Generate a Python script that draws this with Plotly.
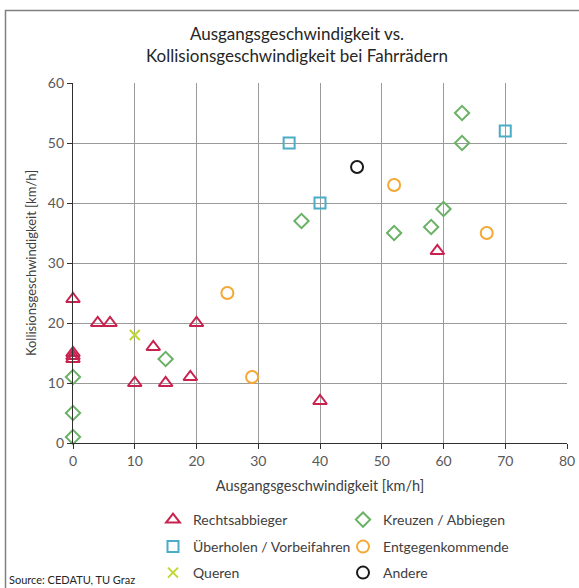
import plotly.graph_objects as go

# Ausgangsgeschwindigkeit (x) und Kollisionsgeschwindigkeit (y) je Unfalltyp, km/h
rechts_x = [0, 0, 0, 0, 4, 6, 10, 13, 15, 19, 20, 40, 59]
rechts_y = [24, 15, 14.5, 14, 20, 20, 10, 16, 10, 11, 20, 7, 32]

kreuzen_x = [0, 0, 0, 15, 37, 52, 58, 60, 63, 63]
kreuzen_y = [11, 5, 1, 14, 37, 35, 36, 39, 50, 55]

ueberholen_x = [35, 40, 70]
ueberholen_y = [50, 40, 52]

entgegen_x = [25, 29, 52, 67]
entgegen_y = [25, 11, 43, 35]

queren_x = [10]
queren_y = [18]

andere_x = [46]
andere_y = [46]

x_ticks = [0, 10, 20, 30, 40, 50, 60, 70, 80]
y_ticks = [0, 10, 20, 30, 40, 50, 60]

FONT = "Lato"
TXT = "#404040"

W, H = 579, 588
L, R, T, B = 73, 12, 83, 145
pw, ph = W - L - R, H - T - B


def px_x(p):
    return (p - L) / pw


def px_y(p):
    return (H - B - p) / ph


# name, x, y, symbol, colour, size, legend text position (left edge, row centre)
series = [
    ("Rechtsabbieger", rechts_x, rechts_y, "triangle-up-open", "#C8234F", 12, 190, 520),
    ("Kreuzen / Abbiegen", kreuzen_x, kreuzen_y, "diamond-open", "#6BB166", 11, 380, 520),
    ("Überholen / Vorbeifahren", ueberholen_x, ueberholen_y, "square-open", "#4BACC6", 11, 190, 547),
    ("Entgegenkommende", entgegen_x, entgegen_y, "circle-open", "#F5A833", 12, 380, 547),
    ("Queren", queren_x, queren_y, "x-thin-open", "#BFD730", 10, 190, 573),
    ("Andere", andere_x, andere_y, "circle-open", "#1A1A1A", 12, 380, 573),
]

fig = go.Figure()
legends = {}
for i, (name, xs, ys, sym, col, size, lx, ly) in enumerate(series):
    key = "legend" if i == 0 else f"legend{i + 1}"
    fig.add_trace(go.Scatter(
        x=xs, y=ys, mode="markers", name=name, cliponaxis=False, legend=key,
        marker=dict(symbol=sym, size=size, color=col, line=dict(color=col, width=2)),
    ))
    legends[key] = dict(
        x=px_x(lx - 37), xanchor="left", y=px_y(ly), yanchor="middle",
        itemwidth=30, borderwidth=0, bgcolor="rgba(0,0,0,0)",
        font=dict(family=FONT, size=14, color=TXT),
    )

# Rahmen um die gesamte Grafik
fig.add_shape(type="rect", xref="paper", yref="paper",
              x0=px_x(5.5), x1=px_x(W + 20), y0=px_y(H + 20), y1=px_y(10.5),
              line=dict(color="#808080", width=1.5), layer="below")

fig.add_annotation(text="Source: CEDATU, TU Graz", xref="paper", yref="paper",
                   x=px_x(7), y=px_y(579), xanchor="left", yanchor="middle",
                   showarrow=False, font=dict(family=FONT, size=11, color="#262626"))

axis_common = dict(
    showgrid=True, gridcolor="#9A9A9A", gridwidth=1,
    showline=True, linecolor="#303030", linewidth=1.3,
    ticks="outside", ticklen=5, tickcolor="#303030", tickwidth=1.3,
    tickfont=dict(family=FONT, size=14, color="#595959"),
    zeroline=False,
)

fig.update_layout(
    width=W, height=H,
    margin=dict(l=L, r=R, t=T, b=B, autoexpand=False),
    paper_bgcolor="white", plot_bgcolor="white",
    font=dict(family=FONT, color=TXT),
    title=dict(text="Ausgangsgeschwindigkeit vs.<br>Kollisionsgeschwindigkeit bei Fahrrädern",
               x=297 / W, xanchor="center",
               y=1 - 40 / H, yanchor="middle",
               font=dict(family=FONT, size=17, color="#262626")),
    xaxis=dict(range=[0, 80], tickvals=x_ticks,
               title=dict(text="Ausgangsgeschwindigkeit [km/h]", standoff=12,
                          font=dict(family=FONT, size=14.5, color=TXT)),
               **axis_common),
    yaxis=dict(range=[0, 60], tickvals=y_ticks,
               title=dict(text="Kollisionsgeschwindigkeit [km/h]", standoff=8,
                          font=dict(family=FONT, size=13, color=TXT)),
               **axis_common),
    showlegend=True,
    **legends,
)

fig.write_html("out.html")
